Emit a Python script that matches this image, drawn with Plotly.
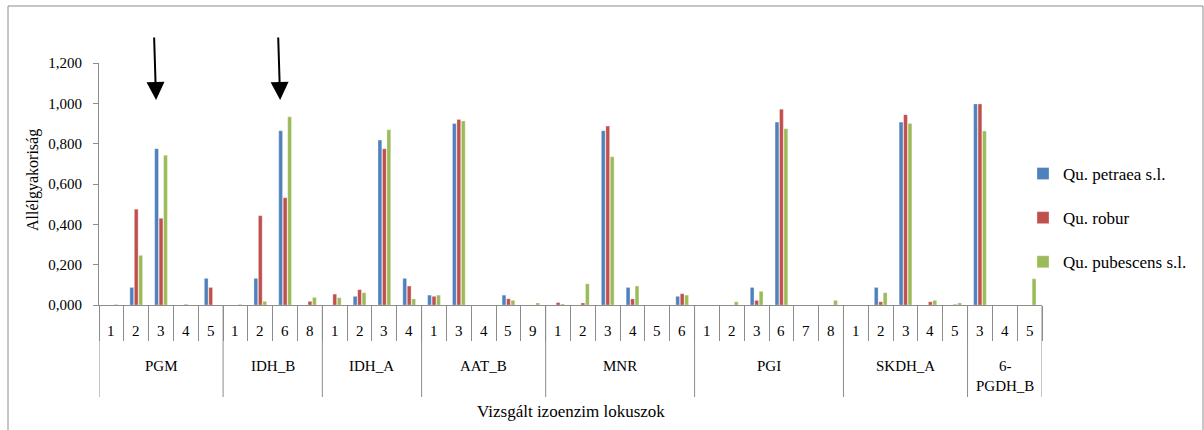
import plotly.graph_objects as go

# Loci and the alleles scored at each locus
loci = ["PGM", "IDH_B", "IDH_A", "AAT_B", "MNR", "PGI", "SKDH_A", "6-PGDH_B"]
locus_labels = ["PGM", "IDH_B", "IDH_A", "AAT_B", "MNR", "PGI", "SKDH_A", "6-<br>PGDH_B"]
alleles = [
    ["1", "2", "3", "4", "5"],
    ["1", "2", "6", "8"],
    ["1", "2", "3", "4"],
    ["1", "3", "4", "5", "9"],
    ["1", "2", "3", "4", "5", "6"],
    ["1", "2", "3", "6", "7", "8"],
    ["1", "2", "3", "4", "5"],
    ["3", "4", "5"],
]

# Allele frequencies per taxon, in the same order as the alleles above
petraea = [0.000, 0.087, 0.775, 0.000, 0.132,
           0.000, 0.132, 0.864, 0.000,
           0.000, 0.043, 0.818, 0.132,
           0.049, 0.900, 0.000, 0.049, 0.000,
           0.000, 0.000, 0.864, 0.087, 0.000, 0.043,
           0.000, 0.000, 0.087, 0.907, 0.000, 0.000,
           0.000, 0.087, 0.907, 0.000, 0.000,
           0.997, 0.000, 0.000]
robur = [0.000, 0.475, 0.430, 0.003, 0.087,
         0.000, 0.443, 0.532, 0.018,
         0.054, 0.076, 0.775, 0.094,
         0.043, 0.920, 0.000, 0.031, 0.000,
         0.012, 0.010, 0.887, 0.030, 0.000, 0.056,
         0.000, 0.000, 0.023, 0.971, 0.000, 0.000,
         0.000, 0.016, 0.944, 0.016, 0.003,
         0.997, 0.000, 0.000]
pubescens = [0.003, 0.246, 0.742, 0.000, 0.000,
             0.003, 0.018, 0.933, 0.038,
             0.036, 0.061, 0.869, 0.030,
             0.049, 0.913, 0.000, 0.023, 0.010,
             0.005, 0.105, 0.735, 0.094, 0.000, 0.049,
             0.000, 0.016, 0.068, 0.874, 0.000, 0.023,
             0.000, 0.061, 0.900, 0.023, 0.010,
             0.863, 0.000, 0.130]

series = [
    ("Qu. petraea s.l.", petraea, "#4F81BD"),
    ("Qu. robur", robur, "#C0504D"),
    ("Qu. pubescens s.l.", pubescens, "#9BBB59"),
]

# Alleles highlighted with arrows
highlighted = [("PGM", "3"), ("IDH_B", "6")]

# ---- layout geometry (pixels) ----
W, H = 1204, 430
ML, MR, MT, MB = 99, 162, 63, 125
plot_w = W - ML - MR
plot_h = H - MT - MB
FONT = "Liberation Serif"
GRID = "#8C8C8C"


def py(pixel_y):
    """Pixel row -> paper y."""
    return (H - MB - pixel_y) / plot_h


def px(pixel_x):
    """Pixel column -> paper x."""
    return (pixel_x - ML) / plot_w


# flat category positions
flat_alleles = [a for grp in alleles for a in grp]
flat_loci = [l for l, grp in zip(loci, alleles) for _ in grp]
xpos = list(range(len(flat_alleles)))
n = len(xpos)

fig = go.Figure()
for name, vals, color in series:
    fig.add_trace(go.Bar(
        x=xpos, y=vals, name=name, legendgroup=name,
        marker=dict(color=color, line=dict(color="rgba(255,255,255,0.6)", width=0.5)),
    ))

shapes = []
annotations = []

# allele numbers under each bar cluster
for i, a in enumerate(flat_alleles):
    annotations.append(dict(
        x=i, y=py(331), xref="x", yref="paper", text=a, showarrow=False,
        font=dict(family=FONT, size=15, color="#000"), xanchor="center", yanchor="middle",
    ))

# locus labels and group dividers
start = 0
bounds = [-0.5]
for lab, grp in zip(locus_labels, alleles):
    end = start + len(grp)
    annotations.append(dict(
        x=(start + end - 1) / 2, y=py(356), xref="x", yref="paper", text=lab,
        showarrow=False, font=dict(family=FONT, size=15, color="#000"),
        xanchor="center", yanchor="top",
    ))
    bounds.append(end - 0.5)
    start = end
for b in bounds:
    shapes.append(dict(type="line", xref="x", yref="paper", x0=b, x1=b,
                       y0=0, y1=py(397), line=dict(color=GRID, width=1)))

# arrows pointing at highlighted alleles
for locus, allele in highlighted:
    idx = next(i for i in xpos if flat_loci[i] == locus and flat_alleles[i] == allele)
    annotations.append(dict(
        x=idx - 0.2, y=(H - MB - 100) / plot_h * 1.2, xref="x", yref="y",
        ax=-2, ay=-64, axref="pixel", ayref="pixel",
        showarrow=True, arrowhead=2, arrowsize=1.8, arrowwidth=2, arrowcolor="#000",
        text="", standoff=0,
    ))

# axis titles
annotations.append(dict(
    x=0.5, y=py(411), xref="paper", yref="paper", text="Vizsgált izoenzim lokuszok",
    showarrow=False, font=dict(family=FONT, size=17, color="#000"),
    xanchor="center", yanchor="middle",
))
annotations.append(dict(
    x=px(33), y=py(180), xref="paper", yref="paper", text="Allélgyakoriság",
    showarrow=False, textangle=-90, font=dict(family=FONT, size=16, color="#000"),
    xanchor="center", yanchor="middle",
))

# outer chart frame
shapes.append(dict(type="rect", xref="paper", yref="paper",
                   x0=px(8), x1=px(1203), y0=py(445), y1=py(6),
                   line=dict(color=GRID, width=1), fillcolor="rgba(0,0,0,0)", layer="below"))

fig.update_layout(
    width=W, height=H,
    margin=dict(l=ML, r=MR, t=MT, b=MB),
    paper_bgcolor="white", plot_bgcolor="white",
    separators=",.",
    barmode="group", bargap=0.46, bargroupgap=0.15,
    font=dict(family=FONT, size=15, color="#000"),
    showlegend=True,
    legend=dict(x=px(1023), y=py(156), xanchor="left", yanchor="top",
                bgcolor="rgba(0,0,0,0)", tracegroupgap=19,
                font=dict(family=FONT, size=17, color="#000")),
    xaxis=dict(range=[-0.5, n - 0.5], showgrid=False, zeroline=False,
               showline=True, linecolor=GRID, linewidth=1,
               tickmode="array", tickvals=[i - 0.5 for i in range(n + 1)],
               ticks="outside", ticklen=35, tickcolor=GRID, tickwidth=1,
               showticklabels=False, fixedrange=True),
    yaxis=dict(range=[0, 1.2], dtick=0.2, tick0=0, tickformat=".3f",
               showgrid=False, zeroline=False, showline=True, linecolor=GRID,
               linewidth=1, ticks="outside", ticklen=5, tickcolor=GRID,
               ticklabelstandoff=8,
               tickfont=dict(family=FONT, size=15, color="#000"), fixedrange=True),
    shapes=shapes, annotations=annotations,
)

fig.write_html("out.html")
